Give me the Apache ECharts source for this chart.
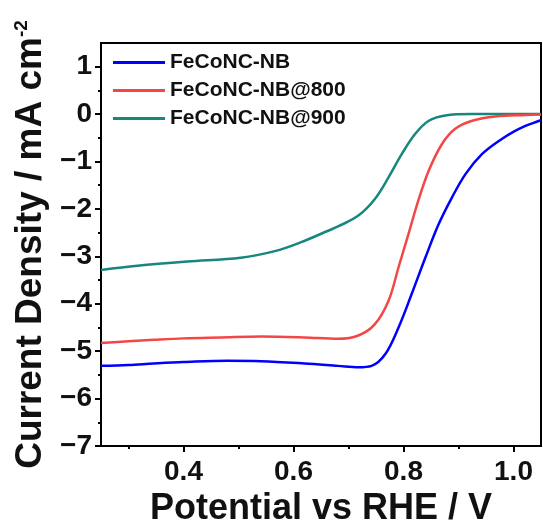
<!DOCTYPE html>
<html>
<head>
<meta charset="utf-8">
<script src="https://cdn.jsdelivr.net/npm/echarts@6/dist/echarts.min.js"></script>
<style>html,body{margin:0;padding:0;background:#fff}#c{width:543px;height:525px}</style>
</head>
<body>
<div id="c"></div>
<script>
const seriesNames = ['FeCoNC-NB', 'FeCoNC-NB@800', 'FeCoNC-NB@900'];
const seriesColors = ['#0000ff', '#f54646', '#17877e'];
const xMajorTicks = [0.4, 0.6, 0.8, 1.0];
const xMinorTicks = [0.3, 0.5, 0.7, 0.9];
const yMajorTicks = [-7, -6, -5, -4, -3, -2, -1, 0, 1];
const yMinorTicks = [-6.5, -5.5, -4.5, -3.5, -2.5, -1.5, -0.5, 0.5];

const nbData = [[0.25,-5.31],[0.30,-5.29],[0.346,-5.26],[0.40,-5.23],[0.480,-5.20],[0.541,-5.21],[0.620,-5.26],[0.681,-5.31],[0.718,-5.34],[0.742,-5.31],[0.767,-5.06],[0.791,-4.50],[0.815,-3.79],[0.840,-3.02],[0.864,-2.32],[0.888,-1.76],[0.913,-1.26],[0.943,-0.84],[0.974,-0.56],[1.010,-0.31],[1.047,-0.14],[1.05,-0.13]];
const nb800Data = [[0.25,-4.83],[0.30,-4.79],[0.346,-4.76],[0.40,-4.73],[0.468,-4.71],[0.541,-4.69],[0.620,-4.71],[0.681,-4.74],[0.718,-4.67],[0.748,-4.43],[0.773,-3.93],[0.791,-3.23],[0.809,-2.53],[0.827,-1.82],[0.846,-1.19],[0.870,-0.63],[0.894,-0.31],[0.925,-0.14],[0.967,-0.05],[1.022,-0.02],[1.05,-0.01]];
const nb900Data = [[0.25,-3.29],[0.316,-3.20],[0.407,-3.11],[0.504,-3.03],[0.566,-2.89],[0.614,-2.70],[0.663,-2.46],[0.681,-2.37],[0.718,-2.14],[0.748,-1.79],[0.773,-1.33],[0.797,-0.84],[0.821,-0.42],[0.846,-0.14],[0.876,-0.03],[0.924,0],[1.05,0]];
const seriesData = [nbData, nb800Data, nb900Data];

const FONT = 'Liberation Sans, Arial, sans-serif';
const chart = echarts.init(document.getElementById('c'), null, {renderer: 'canvas'});

const fmtY = v => (v < 0 ? '\u2212' : '') + Math.abs(v);
const fmtX = v => v.toFixed(1);

chart.setOption({
  animation: false,
  backgroundColor: '#fff',
  grid: {left: 101, right: 2, top: 43, bottom: 79, show: true, borderColor: '#000', borderWidth: 2, containLabel: false, outerBoundsMode: 'none'},
  legend: {
    orient: 'vertical', left: 108, top: 47,
    itemWidth: 52, itemHeight: 3, itemGap: 7, icon: 'rect',
    textStyle: {fontFamily: FONT, fontWeight: 'bold', fontSize: 21, color: '#111', lineHeight: 21},
    data: seriesNames
  },
  xAxis: [{
    type: 'value', min: 0.25, max: 1.05, position: 'bottom',
    name: 'Potential vs RHE / V', nameLocation: 'middle', nameGap: 43,
    nameTextStyle: {fontFamily: FONT, fontWeight: 'bold', fontSize: 36, color: '#111'},
    axisLine: {show: true, onZero: false, lineStyle: {color: '#000', width: 2}},
    axisTick: {show: true, inside: false, length: 6, lineStyle: {width: 2, color: '#000'}, customValues: xMajorTicks},
    axisLabel: {customValues: xMajorTicks, formatter: fmtX, fontFamily: FONT, fontWeight: 'bold', fontSize: 28, color: '#111', margin: 12},
    splitLine: {show: false}
  }, {
    type: 'value', min: 0.25, max: 1.05, position: 'bottom',
    axisLine: {show: false, onZero: false},
    axisTick: {show: true, inside: false, length: 3, lineStyle: {width: 2, color: '#000'}, customValues: xMinorTicks},
    axisLabel: {show: false},
    splitLine: {show: false}
  }],
  yAxis: [{
    type: 'value', min: -7, max: 1.5, position: 'left',
    name: '{a|Current Density / mA cm}{b|-2}', nameLocation: 'middle', nameGap: 45, nameRotate: 90,
    nameTextStyle: {
      rich: {
        a: {fontFamily: FONT, fontWeight: 'bold', fontSize: 37, color: '#111'},
        b: {fontFamily: FONT, fontWeight: 'bold', fontSize: 19, color: '#111', verticalAlign: 'top', padding: [0, 0, 18, 0]}
      }
    },
    axisLine: {show: true, onZero: false, lineStyle: {color: '#000', width: 2}},
    axisTick: {show: true, inside: false, length: 6, lineStyle: {width: 2, color: '#000'}, customValues: yMajorTicks},
    axisLabel: {customValues: yMajorTicks, formatter: fmtY, fontFamily: FONT, fontWeight: 'bold', fontSize: 28, color: '#111', margin: 9},
    splitLine: {show: false}
  }, {
    type: 'value', min: -7, max: 1.5, position: 'left',
    axisLine: {show: false, onZero: false},
    axisTick: {show: true, inside: false, length: 3, lineStyle: {width: 2, color: '#000'}, customValues: yMinorTicks},
    axisLabel: {show: false},
    splitLine: {show: false}
  }],
  series: seriesNames.map((n, i) => ({
    name: n, type: 'line', data: seriesData[i], smooth: 0.35, showSymbol: false, symbol: 'none',
    xAxisIndex: 0, yAxisIndex: 0,
    lineStyle: {color: seriesColors[i], width: 2.5},
    itemStyle: {color: seriesColors[i]},
    z: 3 - i
  }))
});
</script>
</body>
</html>
